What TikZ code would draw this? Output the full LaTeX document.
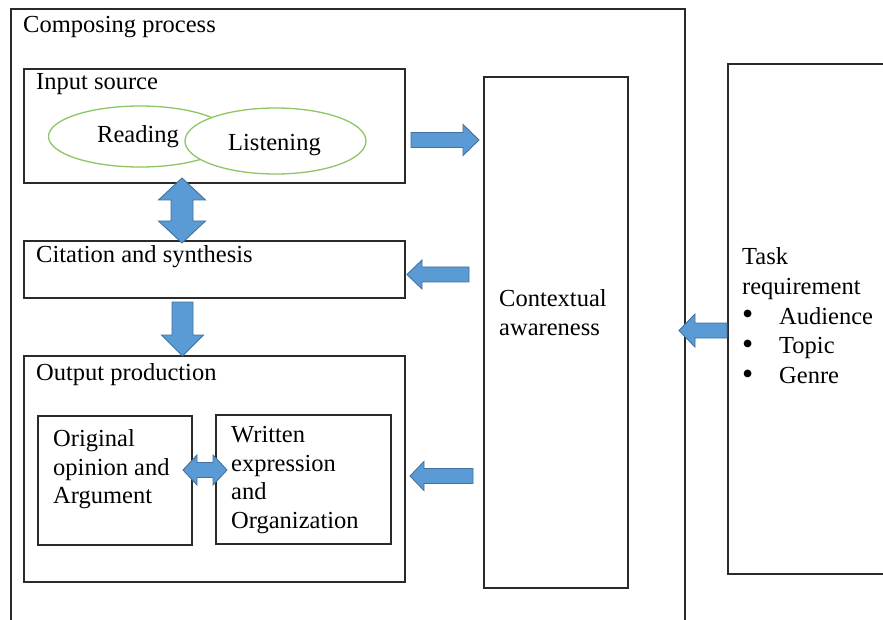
\documentclass[tikz,border=0pt]{standalone}
\usepackage{fontspec}
\setmainfont{Liberation Serif}
\usetikzlibrary{calc,shapes.geometric}
\definecolor{arrfill}{HTML}{5B9BD5}
\definecolor{arrline}{HTML}{41719C}
\definecolor{ellgreen}{HTML}{8CC665}
\definecolor{boxline}{HTML}{2A2A2A}
\tikzset{
  box/.style={draw=boxline, line width=1.6pt, inner sep=0pt, anchor=north west, rectangle},
  ell/.style={draw=ellgreen, line width=1.3pt, ellipse, inner sep=0pt},
  txt/.style={inner sep=0pt, anchor=base west, font=\fontsize{24.5}{28.5}\selectfont},
  mtxt/.style={inner sep=0pt, anchor=north west, align=left, font=\fontsize{24.5}{28.5}\selectfont},
  blockarrow/.style={fill=arrfill, draw=arrline, line width=0.9pt, line join=miter}
}
\newcommand{\bul}{\makebox[37pt][l]{\smash{\raisebox{-0.5pt}{\scalebox{1.3}{•}}}}}
% #1 tail, #2 tip, #3 shaft half width, #4 head half width, #5 head length
\newcommand{\blockarr}[5]{%
  \coordinate (ba-h) at ($(#2)!#5!(#1)$);
  \path[blockarrow] ($(#1)!#3!90:(#2)$) -- ($(ba-h)!#3!90:(#2)$) -- ($(ba-h)!#4!90:(#2)$) -- (#2)
    -- ($(ba-h)!#4!-90:(#2)$) -- ($(ba-h)!#3!-90:(#2)$) -- ($(#1)!#3!-90:(#2)$) -- cycle;}
\newcommand{\dblarr}[5]{%
  \coordinate (da-a) at ($(#1)!#5!(#2)$);
  \coordinate (da-b) at ($(#2)!#5!(#1)$);
  \path[blockarrow] (#1) -- ($(da-a)!#4!90:(#2)$) -- ($(da-a)!#3!90:(#2)$) -- ($(da-b)!#3!-90:(#1)$)
    -- ($(da-b)!#4!-90:(#1)$) -- (#2) -- ($(da-b)!#4!90:(#1)$) -- ($(da-b)!#3!90:(#1)$)
    -- ($(da-a)!#3!-90:(#2)$) -- ($(da-a)!#4!-90:(#2)$) -- cycle;}
\begin{document}
\begin{tikzpicture}[x=1pt,y=-1pt]
\useasboundingbox (0,0) rectangle (883,620);
\clip (0,0) rectangle (883,620);
\fill[white] (0,0) rectangle (883,620);

% boxes
\node[box, minimum width=674pt, minimum height=640pt] (compose) at (10,8) {};
\node[box, minimum width=381pt, minimum height=114pt] (input) at (23,68) {};
\node[box, minimum width=381pt, minimum height=57pt] (cite) at (23,240) {};
\node[box, minimum width=381pt, minimum height=226pt] (output) at (23,355) {};
\node[box, minimum width=154pt, minimum height=129pt] (orig) at (37,415) {};
\node[box, minimum width=175pt, minimum height=129pt] (written) at (215,414) {};
\node[box, minimum width=144pt, minimum height=511pt] (ctx) at (483,76) {};
\node[box, minimum width=200pt, minimum height=510pt] (task) at (727,63) {};

% ellipses
\node[ell, minimum width=183pt, minimum height=61pt] (reading) at (140,136.5) {};
\node[ell, fill=white, minimum width=181pt, minimum height=66pt] (listening) at (275.5,141) {};

% texts
\node[txt] (tcompose) at (23,33) {Composing process};
\node[txt] (tinput) at (36,90) {Input source};
\node[txt] (treading) at (97,143) {Reading};
\node[txt] (tlisten) at (228,151) {Listening};
\node[txt] (tcite) at (36,263) {Citation and synthesis};
\node[txt] (toutput) at (36,380) {Output production};
\node[mtxt] (torig) at (53,429.5) {Original\\opinion and\\Argument};
\node[mtxt] (twritten) at (231,426.5) {Written\\expression\\and\\Organization};
\node[mtxt] (tctx) at (499,289.5) {Contextual\\awareness};
\node[mtxt, font=\fontsize{24.5}{29.7}\selectfont] (ttask) at (742,247.5)
  {Task\\requirement\\\bul Audience\\\bul Topic\\\bul Genre};

% arrow end points
\coordinate (a1s) at (411,140);   \coordinate (a1e) at (479,140);
\coordinate (a2s) at (469,274.5); \coordinate (a2e) at (407,274.5);
\coordinate (a3s) at (473,476);   \coordinate (a3e) at (410,476);
\coordinate (a4s) at (727,330.5); \coordinate (a4e) at (679,330.5);
\coordinate (a5s) at (182,178);   \coordinate (a5e) at (182,243);
\coordinate (a6s) at (182.5,302); \coordinate (a6e) at (182.5,356);
\coordinate (a7s) at (183,470);   \coordinate (a7e) at (227,470);

\blockarr{a1s}{a1e}{7.5pt}{15.5pt}{16pt}
\blockarr{a2s}{a2e}{7.5pt}{14.5pt}{15pt}
\blockarr{a3s}{a3e}{7.5pt}{14.5pt}{14pt}
\blockarr{a4s}{a4e}{7.5pt}{16.5pt}{16pt}
\dblarr{a5s}{a5e}{11pt}{23.5pt}{22pt}
\blockarr{a6s}{a6e}{10.5pt}{21pt}{21pt}
\dblarr{a7s}{a7e}{7.5pt}{15pt}{14pt}
\end{tikzpicture}
\end{document}
